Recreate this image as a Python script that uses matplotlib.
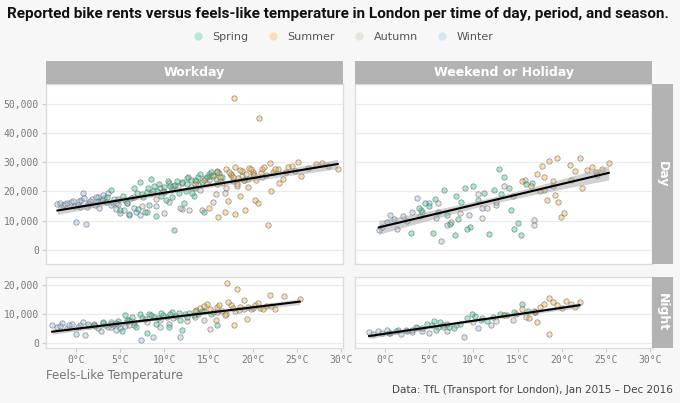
import numpy as np
import matplotlib
matplotlib.use("Agg")
from matplotlib import pyplot as plt
from matplotlib.lines import Line2D
from matplotlib.patches import Rectangle
from matplotlib.ticker import FuncFormatter

# ---- data (feels-like temperature in C, rents) ----
seasons = ["Spring", "Summer", "Autumn", "Winter"]
season_colors = {"Spring": "#3fcf9a", "Summer": "#f7b64c",
                 "Autumn": "#cfc4b0", "Winter": "#9ec2e6"}

# Workday / Day
wd_day_winter_t = [-2.1, -1.5, -1.0, -0.6, -0.2, 0.0, 0.3, 0.6, 0.8, 1.1, 1.4, 1.8, 2.1, 2.5, 2.8, 3.2, 3.6,
                   4.0, 4.5, 5.0, 5.4, 6.0, 6.5, 7.2, 8.0, 0.5, 1.5, 3.0, 4.2, 5.5, 6.8, 9.0, 10.5, 12.0,
                   -1.8, -1.2, -0.4, 0.2, 0.9, 1.6, 2.3, 2.9, 3.4, 4.3, 4.8, 5.8, 1.2, 2.6]
wd_day_winter_n = [15600, 15200, 16000, 16500, 15000, 9500, 16800, 17200, 19400, 8900, 16000, 17500, 15500,
                   18000, 16600, 17800, 19600, 15200, 14000, 12500, 13500, 12000, 14500, 11800, 12800, 14600,
                   15800, 18800, 16200, 17000, 13000, 15000, 16500, 14000,
                   16200, 15800, 16800, 15500, 17600, 16600, 18200, 17000, 16400, 17400, 15600, 16000, 14800, 14200]
wd_day_spring_t = [2.5, 3.5, 4.0, 4.8, 5.3, 5.8, 6.2, 6.6, 7.0, 7.5, 8.0, 8.3, 8.8, 9.2, 9.6, 10.0, 10.4, 10.8,
                   11.2, 11.6, 12.0, 12.5, 13.0, 13.4, 13.8, 14.2, 14.6, 15.0, 15.5, 16.0, 16.5, 5.0, 6.0, 7.8,
                   9.0, 10.2, 11.1, 12.2, 13.3, 14.5, 8.5, 7.2,
                   6.9, 7.6, 8.1, 8.7, 9.4, 9.9, 10.6, 11.4, 12.7, 13.6, 14.0, 14.8, 15.3, 15.8, 16.2, 10.9, 12.4, 13.1]
wd_day_spring_n = [16800, 18000, 20500, 17500, 18500, 16000, 17800, 21000, 14000, 19000, 19800, 15500, 22000,
                   20200, 18500, 21500, 23500, 20800, 22200, 19500, 23000, 22500, 24000, 21000, 25000, 23200,
                   24500, 26000, 25500, 27000, 24800, 13500, 12200, 13000, 11500, 17000, 6800, 16000, 18500,
                   12800, 24200, 23300,
                   19500, 18200, 21200, 20000, 22600, 19800, 22000, 23400, 24800, 23600, 25800, 25000, 26500,
                   24200, 26200, 18000, 20200, 19500]
wd_day_autumn_t = [4.5, 6.5, 8.5, 9.5, 10.5, 11.5, 12.5, 13.0, 13.5, 14.0, 14.8, 15.2, 15.8, 16.4, 17.0, 17.5,
                   18.2, 19.0, 20.0, 21.0, 11.8, 12.8, 14.2, 15.5, 16.8, 10.0, 7.5, 9.0,
                   12.0, 13.8, 15.0, 16.0, 17.8, 18.8, 9.8, 11.0]
wd_day_autumn_n = [16000, 18200, 19500, 21000, 23000, 22000, 24500, 21500, 23800, 20500, 22800, 25200, 19000,
                   23600, 21000, 25500, 22000, 24000, 26000, 25000, 14500, 13500, 13800, 16500, 19500, 12500,
                   15000, 17500,
                   23200, 22400, 24000, 22600, 23400, 25200, 20000, 21800]
wd_day_summer_t = [13.5, 14.5, 15.5, 16.0, 16.5, 17.0, 17.5, 17.9, 18.0, 18.3, 18.8, 19.2, 19.6, 20.0, 20.4,
                   20.7, 21.0, 21.5, 21.9, 22.3, 22.8, 23.4, 24.0, 24.8, 25.1, 25.5, 26.2, 27.2, 27.8, 28.5, 29.6,
                   16.1, 16.8, 18.0, 19.1, 20.6, 21.7, 17.2, 18.6, 20.2, 22.0, 23.0, 19.5, 15.0,
                   16.3, 17.3, 17.8, 18.5, 19.0, 19.8, 20.1, 20.9, 21.3, 22.5, 23.7, 24.4, 18.2, 19.4]
wd_day_summer_n = [22500, 24000, 25200, 26500, 23000, 27500, 26000, 51800, 28500, 24500, 27000, 25800, 28000,
                   26800, 24000, 45000, 27800, 25500, 29600, 26500, 27500, 24400, 28200, 27000, 30200, 25200,
                   28000, 29300, 29800, 28600, 27800, 11200, 13000, 12200, 13600, 15900, 8600, 16800, 18500,
                   17200, 20000, 22800, 21500, 14500,
                   25000, 26800, 24800, 27200, 23800, 27500, 25600, 26200, 28400, 27800, 26600, 28800, 22500, 24200]

# Weekend or Holiday / Day
we_day_winter_t = [-0.7, -0.3, 0.2, 0.6, 1.0, 1.4, 2.0, 2.5, 3.0, 3.6, 4.1, 5.0, 5.8, 6.3, 7.0, 9.5, 11.0, 12.5]
we_day_winter_n = [6800, 8000, 9500, 12000, 10500, 7100, 11500, 10000, 12800, 17900, 13700, 15900, 11000,
                   3100, 8500, 12000, 14500, 15500]
we_day_spring_t = [2.9, 3.8, 4.5, 5.0, 5.4, 6.0, 6.7, 7.4, 7.9, 8.0, 8.6, 9.0, 9.6, 10.0, 10.5, 11.2, 11.8,
                   12.3, 12.9, 13.5, 14.0, 14.6, 15.0, 15.4, 16.0, 16.6, 4.2, 5.6, 7.0, 8.3, 9.3, 13.1, 14.2]
we_day_spring_n = [5700, 14500, 16000, 15000, 5900, 13000, 20400, 9000, 5100, 18400, 16500, 21300, 8000,
                   22000, 17000, 19500, 5500, 20500, 27700, 24900, 21000, 7100, 9100, 5100, 22500, 23000,
                   13000, 17500, 12000, 10500, 7000, 19000, 13500]
we_day_autumn_t = [4.0, 6.0, 8.5, 10.5, 11.5, 12.5, 13.5, 14.5, 15.8, 16.9, 16.9, 18.0, 7.5, 11.0, 19.0]
we_day_autumn_n = [11500, 16000, 12500, 19000, 14500, 16500, 22000, 18500, 24000, 10200, 8400, 20500, 9500,
                   11000, 22000]
we_day_summer_t = [15.5, 16.5, 17.2, 17.8, 18.3, 18.6, 19.2, 19.5, 19.6, 19.9, 20.3, 20.9, 21.5, 22.0, 22.3,
                   22.8, 23.4, 23.9, 24.5, 25.3, 17.5, 18.0, 19.0, 21.0, 24.0]
we_day_summer_n = [23500, 22000, 26000, 28700, 17100, 30500, 18800, 31300, 16500, 11400, 12500, 29000, 27000,
                   31500, 21000, 27300, 28500, 26800, 27500, 29800, 20000, 25000, 23500, 24000, 25500]

# Workday / Night
wd_night_winter_t = [-2.7, -2.2, -1.6, -1.0, -0.5, 0.0, 0.4, 1.0, 1.5, 2.0, 2.5, 3.0, 3.6, 4.2, 5.0, 5.8, 6.5,
                     7.4, 8.7, 9.5, 10.5, 11.8, 0.8, 2.8, 4.5,
                     -1.8, -0.8, 0.2, 1.3, 2.2, 3.3, 3.9, 4.8, 5.5]
wd_night_winter_n = [6100, 5500, 6800, 5200, 6500, 2900, 6000, 2600, 5800, 6400, 5000, 6800, 5500, 6200, 5000,
                     7000, 6000, 900, 2100, 5500, 6500, 2100, 7200, 4000, 4500,
                     5800, 6200, 5500, 6600, 5900, 6200, 7200, 6500, 5800]
wd_night_spring_t = [2.0, 3.0, 4.0, 4.8, 5.5, 6.0, 6.6, 7.2, 7.8, 8.3, 8.8, 9.3, 9.8, 10.3, 10.8, 11.3, 11.8,
                     12.3, 12.8, 13.3, 13.8, 14.5, 15.3, 16.0, 5.2, 6.8, 8.0, 9.0, 10.5, 12.0,
                     4.5, 5.8, 6.3, 7.5, 8.5, 9.6, 10.6, 11.6, 12.6, 13.6, 14.2]
wd_night_spring_n = [6000, 7000, 6500, 7500, 9500, 8000, 7000, 9800, 8200, 10000, 9000, 8500, 9500, 9000,
                     10500, 9200, 8000, 9800, 10200, 9500, 10000, 11000, 9800, 6000, 4000, 5500, 3500, 6500,
                     5500, 4500,
                     6800, 7800, 9000, 8600, 9600, 10200, 9800, 10400, 9000, 11200, 10800]
wd_night_autumn_t = [4.0, 6.0, 8.0, 9.5, 11.0, 12.5, 13.5, 14.5, 15.2, 16.0, 17.0, 18.0, 19.0, 20.0]
wd_night_autumn_n = [5500, 6000, 7000, 8000, 8500, 7500, 9000, 8000, 4600, 10500, 10000, 11000, 11500, 12000]
wd_night_summer_t = [13.5, 14.0, 14.8, 15.5, 16.0, 16.5, 17.1, 17.5, 17.9, 18.2, 18.6, 19.0, 19.3, 19.8, 20.3,
                     20.8, 21.5, 21.9, 22.5, 23.5, 25.3, 15.8, 16.8, 17.2,
                     14.5, 15.2, 16.2, 17.7, 18.4, 19.5, 20.6, 21.2, 22.0]
wd_night_summer_n = [11000, 12000, 13500, 10500, 12500, 11000, 20800, 13000, 6100, 18600, 12500, 14800, 8100,
                     11500, 13000, 12000, 12800, 16500, 11600, 16200, 15000, 8000, 9500, 14000,
                     12800, 11800, 13200, 12000, 11200, 12200, 13800, 11800, 12600]

# Weekend or Holiday / Night
we_night_winter_t = [-1.8, -1.4, -0.8, -0.3, 0.2, 0.6, 1.2, 1.8, 2.4, 3.0, 3.6, 4.2, 5.0, 6.0, 7.0, 8.9, 10.5, 12.0]
we_night_winter_n = [3800, 3000, 4200, 3500, 4500, 3200, 4000, 3000, 4400, 3800, 5000, 4200, 3500, 5500, 4000,
                     2100, 5000, 6000]
we_night_spring_t = [0.5, 1.5, 2.5, 3.5, 4.2, 4.8, 5.3, 5.8, 6.2, 6.6, 7.2, 7.8, 8.5, 9.3, 10.2, 10.8, 11.5,
                     12.2, 13.0, 13.8, 14.6, 15.5, 16.2, 5.5, 7.0, 9.8]
we_night_spring_n = [3500, 4500, 4000, 5500, 5000, 6500, 6000, 4500, 7000, 6000, 5500, 5000, 6500, 8500, 9200,
                     8000, 7500, 9000, 10000, 9500, 10500, 13300, 11000, 7500, 6500, 10000]
we_night_autumn_t = [3.0, 6.5, 8.0, 10.0, 11.0, 12.5, 13.5, 14.5, 16.0, 17.0]
we_night_autumn_n = [4500, 5500, 6000, 7000, 8500, 7500, 9500, 8000, 9000, 10500]
we_night_summer_t = [13.5, 14.8, 15.5, 16.3, 17.0, 17.5, 18.0, 18.5, 18.6, 19.0, 19.5, 20.0, 20.5, 21.0, 21.5,
                     22.0, 17.2, 16.8]
we_night_summer_n = [9500, 10000, 11500, 8500, 10500, 12500, 13500, 2900, 15400, 14000, 13000, 12000, 14500,
                     13500, 12500, 14000, 7000, 11000]

panels = {
    ("Workday", "Day"): {"Spring": (wd_day_spring_t, wd_day_spring_n), "Summer": (wd_day_summer_t, wd_day_summer_n),
                         "Autumn": (wd_day_autumn_t, wd_day_autumn_n), "Winter": (wd_day_winter_t, wd_day_winter_n)},
    ("Weekend or Holiday", "Day"): {"Spring": (we_day_spring_t, we_day_spring_n), "Summer": (we_day_summer_t, we_day_summer_n),
                                    "Autumn": (we_day_autumn_t, we_day_autumn_n), "Winter": (we_day_winter_t, we_day_winter_n)},
    ("Workday", "Night"): {"Spring": (wd_night_spring_t, wd_night_spring_n), "Summer": (wd_night_summer_t, wd_night_summer_n),
                           "Autumn": (wd_night_autumn_t, wd_night_autumn_n), "Winter": (wd_night_winter_t, wd_night_winter_n)},
    ("Weekend or Holiday", "Night"): {"Spring": (we_night_spring_t, we_night_spring_n), "Summer": (we_night_summer_t, we_night_summer_n),
                                      "Autumn": (we_night_autumn_t, we_night_autumn_n), "Winter": (we_night_winter_t, we_night_winter_n)},
}

W, H = 680, 403
bg = "#f7f7f7"
strip_col = "#b3b3b3"
fig = plt.figure(figsize=(W / 100, H / 100), dpi=100, facecolor=bg)


def fx(px):
    return px / W


def fy(py):
    return 1 - py / H


cols = {"Workday": (46, 343), "Weekend or Holiday": (355, 652)}
rows = {"Day": (84, 264), "Night": (277, 348)}
ylims = {"Day": (-4800, 56700), "Night": (-1830, 22730)}
yticks = {"Day": [0, 10000, 20000, 30000, 40000, 50000], "Night": [0, 10000, 20000]}

ymono = FuncFormatter(lambda v, p: f"{int(v):,}")
xdeg = FuncFormatter(lambda v, p: f"{int(v)}°C")


def fit_line(t, n):
    t = np.asarray(t, float)
    n = np.asarray(n, float)
    b, a = np.polyfit(t, n, 1)
    xs = np.linspace(t.min(), t.max(), 100)
    resid = n - (a + b * t)
    s = np.sqrt((resid ** 2).sum() / (len(t) - 2))
    se = s * np.sqrt(1 / len(t) + (xs - t.mean()) ** 2 / ((t - t.mean()) ** 2).sum())
    return xs, a + b * xs, 1.96 * se


for (col, row), data in panels.items():
    x0, x1 = cols[col]
    y0, y1 = rows[row]
    ax = fig.add_axes([fx(x0), fy(y1), fx(x1 - x0), fy(y0) - fy(y1)])
    ax.set_facecolor("white")
    for sp in ax.spines.values():
        sp.set_color("#dcdcdc")
        sp.set_linewidth(1)
    ax.set_xlim(-3.4, 30.2)
    ax.set_ylim(*ylims[row])
    ax.set_yticks(yticks[row])
    ax.set_xticks([0, 5, 10, 15, 20, 25, 30])
    ax.grid(axis="y", color="#ebebeb", lw=0.9)
    ax.set_axisbelow(True)
    ax.tick_params(length=3, color="#cccccc", labelcolor="#7a7a7a", labelsize=7, pad=2)
    for lab in ax.get_xticklabels() + ax.get_yticklabels():
        lab.set_family("DejaVu Sans Mono")
    ax.yaxis.set_major_formatter(ymono)
    ax.xaxis.set_major_formatter(xdeg)
    if col != "Workday":
        ax.tick_params(axis="y", labelleft=False, length=0)
    if row == "Day":
        ax.tick_params(axis="x", labelbottom=False, length=0)

    all_t, all_n = [], []
    for s in ["Winter", "Autumn", "Spring", "Summer"]:
        t, n = data[s]
        all_t += t
        all_n += n
        ax.scatter(t, n, s=15, facecolor=matplotlib.colors.to_rgba(season_colors[s], 0.45),
                   edgecolor=(0.35, 0.35, 0.35, 0.6), linewidth=0.55, zorder=3)
    xs, ys, ci = fit_line(all_t, all_n)
    ax.fill_between(xs, ys - ci, ys + ci, color="#9a9a9a", alpha=0.45, lw=0, zorder=4)
    ax.plot(xs, ys, color="black", lw=1.5, zorder=5)

# column strips
for col, (x0, x1) in cols.items():
    fig.add_artist(Rectangle((fx(x0), fy(84)), fx(x1 - x0), fy(61) - fy(84),
                             transform=fig.transFigure, facecolor=strip_col, edgecolor="none"))
    fig.text(fx((x0 + x1) / 2), fy(72.5), col, ha="center", va="center",
             color="white", fontsize=9, fontweight="bold")
# row strips
for row, (y0, y1) in rows.items():
    fig.add_artist(Rectangle((fx(652), fy(y1)), fx(21), fy(y0) - fy(y1),
                             transform=fig.transFigure, facecolor=strip_col, edgecolor="none"))
    fig.text(fx(662.5), fy((y0 + y1) / 2), row, ha="center", va="center", rotation=-90,
             color="white", fontsize=9, fontweight="bold")

fig.text(fx(7), fy(14), "Reported bike rents versus feels-like temperature in London per time of day, period, and season.",
         ha="left", va="center", fontsize=11, fontweight="bold", color="#111111", family="Roboto")

handles = [Line2D([], [], marker="o", ls="none", markersize=6, markeredgewidth=0,
                  markerfacecolor=matplotlib.colors.to_rgba(season_colors[s], 0.35)) for s in seasons]
fig.legend(handles, seasons, loc="center", bbox_to_anchor=(0.5, fy(37)), ncol=4, frameon=False,
           fontsize=8, labelcolor="#555555", handletextpad=0.3, columnspacing=1.2)

fig.text(fx(46), fy(376), "Feels-Like Temperature", ha="left", va="center", fontsize=8.5, color="#777777")
fig.text(fx(673), fy(390), "Data: TfL (Transport for London), Jan 2015 – Dec 2016", ha="right", va="center",
         fontsize=7.5, color="#444444")

fig.savefig("out.png", dpi=100, facecolor=bg)
